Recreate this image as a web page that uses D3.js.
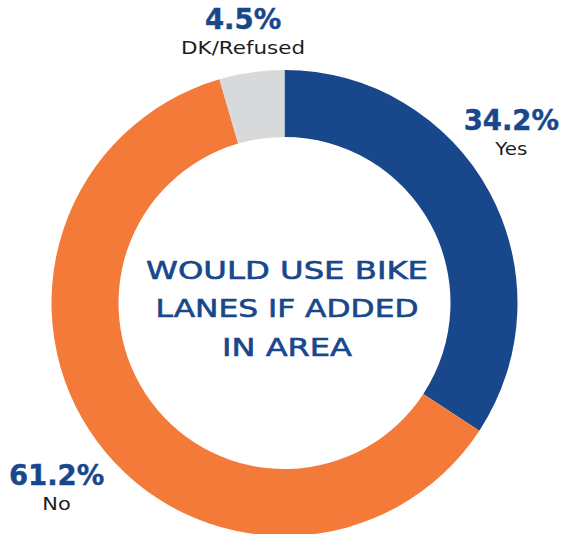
<!DOCTYPE html>
<html>
<head>
<meta charset="utf-8">
<script src="https://cdn.jsdelivr.net/npm/d3@7"></script>
<style>
  html, body { margin: 0; padding: 0; background: #ffffff; }
  svg { display: block; }
</style>
</head>
<body>
<svg id="chart" width="569" height="534"></svg>
<script>
// ---- data ----
const categories = ["Yes", "No", "DK/Refused"];
const values = [34.2, 61.2, 4.5];
const percentLabels = ["34.2%", "61.2%", "4.5%"];
const colors = ["#18478c", "#f37a38", "#d8d9db"];
const centerLines = ["WOULD USE BIKE", "LANES IF ADDED", "IN AREA"];

// ---- layout ----
const cx = 284.5, cy = 303;
const outerR = 233, innerR = 166;
const labelR = 276;
const labelOffsets = [[-16, -42], [-6, 18], [-2.5, -0.5]];
const centerWidths = [282, 263, 130];
const catWidths = [32, 28.5, 124];

const svg = d3.select("#chart");
const g = svg.append("g").attr("transform", `translate(${cx},${cy})`);

const pie = d3.pie().sort(null).value(d => d.value);
const arcs = pie(categories.map((c, i) => ({ cat: c, value: values[i], idx: i })));

const arc = d3.arc().innerRadius(innerR).outerRadius(outerR);
const labelArc = d3.arc().innerRadius(labelR).outerRadius(labelR);

g.selectAll("path.slice")
  .data(arcs)
  .join("path")
  .attr("class", "slice")
  .attr("d", arc)
  .attr("fill", d => colors[d.data.idx]);

const labels = g.selectAll("g.label")
  .data(arcs)
  .join("g")
  .attr("class", "label")
  .attr("transform", d => {
    const [x, y] = labelArc.centroid(d);
    const off = labelOffsets[d.data.idx];
    return `translate(${x + off[0]},${y + off[1]})`;
  });

labels.append("text")
  .attr("text-anchor", "middle")
  .attr("font-family", "'DejaVu Sans', sans-serif")
  .attr("font-weight", "bold")
  .attr("font-size", 27.5)
  .attr("fill", "#18478c")
  .attr("stroke", "#18478c")
  .attr("stroke-width", 0.4)
  .text(d => percentLabels[d.data.idx]);

labels.append("text")
  .attr("text-anchor", "middle")
  .attr("font-family", "'DejaVu Sans', sans-serif")
  .attr("font-size", 18.5)
  .attr("fill", "#1d1d1b")
  .text(d => d.data.cat)
  .attr("transform", function(d) {
    const s = catWidths[d.data.idx] / this.getComputedTextLength();
    return `translate(0,25) scale(${s},1)`;
  });

// center title
g.selectAll("text.center")
  .data(centerLines)
  .join("text")
  .attr("class", "center")
  .attr("text-anchor", "middle")
  .attr("font-family", "'DejaVu Sans', sans-serif")
  .attr("font-size", 24.5)
  .attr("stroke", "#18478c")
  .attr("stroke-width", 0.6)
  .attr("fill", "#18478c")
  .text(d => d)
  .attr("transform", function(d, i) {
    const s = centerWidths[i] / this.getComputedTextLength();
    return `translate(2.5,${14.3 + (i - 1) * 38.2}) scale(${s},1)`;
  });
</script>
</body>
</html>
